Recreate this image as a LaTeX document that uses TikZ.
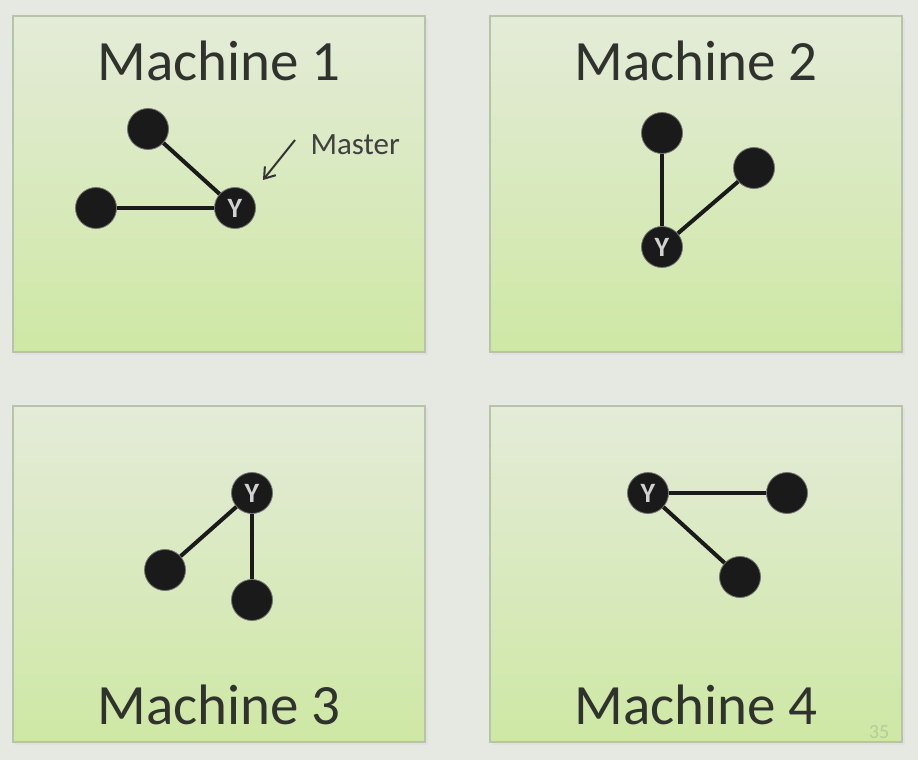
\documentclass[tikz,border=0pt]{standalone}
\usepackage{fontspec}
\setmainfont{Carlito}
\usetikzlibrary{arrows.meta}

\definecolor{slidebg}{RGB}{229,233,226}
\definecolor{paneltop}{RGB}{228,235,216}
\definecolor{panelbot}{RGB}{206,232,164}
\definecolor{panelrim}{RGB}{184,196,168}
\definecolor{dotfill}{RGB}{26,26,26}
\definecolor{titletext}{RGB}{48,50,46}
\definecolor{pagenum}{RGB}{182,204,150}

\tikzset{
  machine/.style={top color=paneltop, bottom color=panelbot, draw=panelrim, line width=1.2pt},
  panelshadow/.style={fill=black!12},
  peer/.style={circle, fill=dotfill, draw=black!55, line width=0.8pt, minimum size=41pt, inner sep=0pt},
  master/.style={peer, text=black!18, font=\fontsize{28}{28}\selectfont\bfseries},
  link/.style={line width=4pt, draw=dotfill},
  title/.style={anchor=base, text=titletext, font=\fontsize{57}{57}\selectfont}
}

\begin{document}
\begin{tikzpicture}[x=1pt,y=-1pt]
% Slide background
\fill[slidebg] (0,0) rectangle (918,760);
\useasboundingbox (0,0) rectangle (918,760);

% Panels
\fill[panelshadow] (15,18) rectangle (428,355);
\fill[panelshadow] (492,18) rectangle (905,355);
\fill[panelshadow] (15,408) rectangle (428,745);
\fill[panelshadow] (492,408) rectangle (905,745);
\shade[machine] (13,16) rectangle (425,352);
\shade[machine] (490,16) rectangle (902,352);
\shade[machine] (13,406) rectangle (425,742);
\shade[machine] (490,406) rectangle (902,742);

% Machine 1
\node[title] (t1) at (219,81) {Machine 1};
\node[peer] (a1) at (148,129) {};
\node[peer] (b1) at (96,208) {};
\node[master] (y1) at (235,208) {Y};
\draw[link] (a1) -- (y1);
\draw[link] (b1) -- (y1);
\node[anchor=base west, text=black!75, font=\fontsize{31}{31}\selectfont] (lbl) at (307,154) {Master};
\coordinate (mtail) at (295,140);
\coordinate (mhead) at (263,180);
\draw[line width=2pt, black!80, -{Straight Barb[length=10pt,width=14pt]}] (mtail) -- (mhead);

% Machine 2
\node[title] (t2) at (696,81) {Machine 2};
\node[peer] (a2) at (662,133) {};
\node[peer] (b2) at (754,168) {};
\node[master] (y2) at (662,247) {Y};
\draw[link] (a2) -- (y2);
\draw[link] (b2) -- (y2);

% Machine 3
\node[title] (t3) at (219,724) {Machine 3};
\node[master] (y3) at (252,493) {Y};
\node[peer] (a3) at (165,570) {};
\node[peer] (b3) at (252,600) {};
\draw[link] (a3) -- (y3);
\draw[link] (b3) -- (y3);

% Machine 4
\node[title] (t4) at (696,724) {Machine 4};
\node[master] (y4) at (648,493) {Y};
\node[peer] (a4) at (787,493) {};
\node[peer] (b4) at (740,577) {};
\draw[link] (a4) -- (y4);
\draw[link] (b4) -- (y4);

% Slide number
\node[anchor=base, text=pagenum, font=\fontsize{20}{20}\selectfont] (num) at (879,738) {35};
\end{tikzpicture}
\end{document}
